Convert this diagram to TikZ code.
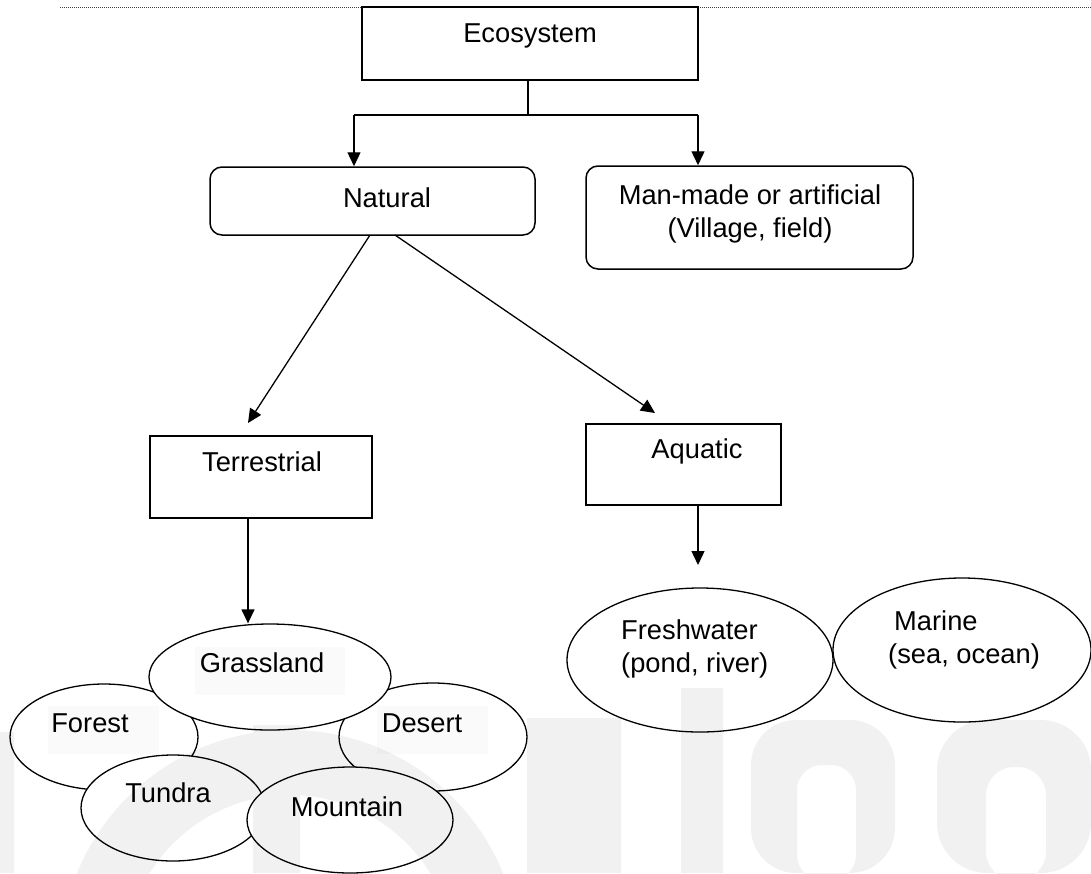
\documentclass[tikz,border=0pt]{standalone}
\usepackage{fontspec}
\setmainfont{Liberation Sans}
\usetikzlibrary{arrows.meta,shapes.geometric}
\begin{document}
\begin{tikzpicture}[x=1pt,y=-1pt,
  box/.style={draw, line width=1.5pt, inner sep=0pt, fill=white},
  rbox/.style={box, rounded corners=12pt},
  oval/.style={ellipse, draw, line width=1.3pt, fill=white, inner sep=0pt},
  wire/.style={line width=1.3pt},
  arr/.style={wire, -{Triangle[length=14pt,width=13pt]}},
  lbl/.style={font=\fontsize{27.3}{33}\selectfont, inner sep=0pt, align=center},
  lblbg/.style={fill=black!2, inner sep=0pt},
]
\useasboundingbox (0,0) rectangle (1091,873);
\fill[white] (0,0) rectangle (1091,873);

% header rule
\coordinate (ruleL) at (60,7);
\coordinate (ruleR) at (1091,7);
\draw[black!75, line width=0.9pt, dash pattern=on 1pt off 1pt] (ruleL) -- (ruleR);

% boxes
\node[box, minimum width=336pt, minimum height=73pt] (eco) at (530,43.5) {};
\node[rbox, minimum width=325pt, minimum height=68pt] (nat) at (372.5,201) {};
\node[rbox, minimum width=327pt, minimum height=103pt] (man) at (749.5,217.5) {};
\node[box, minimum width=222pt, minimum height=82pt] (terr) at (261,477) {};
\node[box, minimum width=195pt, minimum height=81pt] (aqua) at (683.5,464.5) {};

% box labels
\node[lbl] (ecoT) at (530,36) {Ecosystem};
\node[lbl] (natT) at (387,198) {Natural};
\node[lbl] (manT) at (750,214) {Man-made or artificial\\(Village, field)};
\node[lbl] (terrT) at (262,462) {Terrestrial};
\node[lbl] (aquaT) at (697,451) {Aquatic};

% terrestrial ecosystems
\node[oval, minimum width=188pt, minimum height=106pt] (forest) at (104,737) {};
\node[oval, minimum width=188pt, minimum height=108pt] (desert) at (433,737) {};
\node[oval, minimum width=242pt, minimum height=106pt] (grass) at (270,677) {};
\node[oval, minimum width=184pt, minimum height=106pt] (tundra) at (173,808) {};
\node[oval, minimum width=206pt, minimum height=106pt] (mount) at (350,820) {};

\node[lblbg, minimum width=150pt, minimum height=48pt] (grassBg) at (270,671) {};
\node[lblbg, minimum width=111pt, minimum height=48pt] (forestBg) at (103.5,730) {};
\node[lblbg, minimum width=111pt, minimum height=48pt] (desertBg) at (432.5,730) {};

\node[lbl] (grassT) at (262,663) {Grassland};
\node[lbl] (forestT) at (90,723) {Forest};
\node[lbl] (desertT) at (422,723) {Desert};
\node[lbl] (tundraT) at (168,793) {Tundra};
\node[lbl] (mountT) at (347,807) {Mountain};

% aquatic ecosystems
\node[oval, minimum width=266pt, minimum height=144pt] (fresh) at (700,660) {};
\node[oval, minimum width=258pt, minimum height=144pt] (marine) at (962,650) {};
\node[lbl, align=left, anchor=west] (freshT) at (621,649) {Freshwater\\(pond, river)};
\node[lbl, align=left, anchor=west] (marineT) at (888,640) {\hspace*{6pt}Marine\\(sea, ocean)};

% connectors
\coordinate (split) at (528,115);
\coordinate (splitL) at (354,115);
\coordinate (splitR) at (698,115);
\draw[wire] (eco.south -| split) -- (split);
\draw[wire] (splitL) -- (splitR);
\draw[arr] (splitL) -- (splitL |- nat.north);
\draw[arr] (splitR) -- (splitR |- man.north);

\coordinate (natA) at (370,235);
\coordinate (natB) at (395,235);
\coordinate (terrIn) at (248,423);
\coordinate (aquaIn) at (655,413);
\draw[arr] (natA) -- (terrIn);
\draw[arr] (natB) -- (aquaIn);

\coordinate (terrOut) at (248,518);
\draw[arr] (terrOut) -- (terrOut |- grass.north);

\coordinate (aquaOut) at (698,505);
\coordinate (freshIn) at (698,565);
\draw[arr] (aquaOut) -- (freshIn);

% faint logo watermark laid over the lower part
\begin{scope}[transparency group, opacity=0.055]
  \clip (0,0) rectangle (1091,873);
  \fill[black] (0,732) rectangle (14,873);
  \fill[black, even odd rule] (290,960) circle[radius=230] (290,960) circle[radius=165];
  \fill[black] (253,725) rectangle (300,873);
  \fill[black] (527,718) rectangle (621,873);
  \fill[black] (681,688) rectangle (723,873);
  \fill[black, even odd rule]
    [rounded corners=45pt] (751,873) -- (751,720) -- (895,720) -- (895,873) -- cycle
    [rounded corners=25pt] (797,880) -- (797,765) -- (856,765) -- (856,880) -- cycle;
  \fill[black, even odd rule]
    [rounded corners=50pt] (937,873) -- (937,720) -- (1091,720) -- (1091,873) -- cycle
    [rounded corners=28pt] (986,880) -- (986,767) -- (1046,767) -- (1046,880) -- cycle;
\end{scope}
\end{tikzpicture}
\end{document}
